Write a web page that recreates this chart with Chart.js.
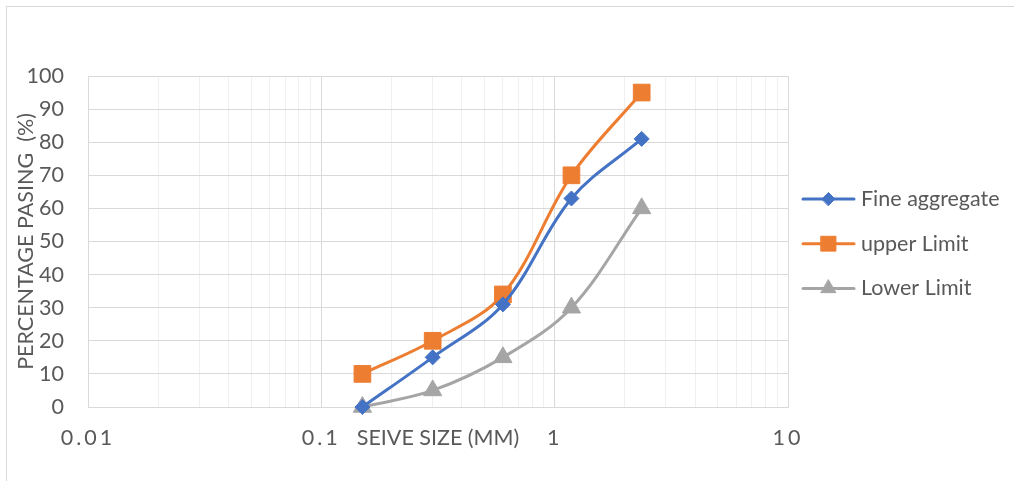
<!DOCTYPE html>
<html>
<head>
<meta charset="utf-8">
<script src="https://cdn.jsdelivr.net/npm/chart.js@4/dist/chart.umd.min.js"></script>
<style>
  html, body { margin: 0; padding: 0; background: #ffffff; }
  #wrap { width: 1014px; height: 481px; position: relative; }
</style>
</head>
<body>
<div id="wrap"><canvas id="grading" width="1014" height="481"></canvas></div>
<script>
// Sieve analysis: percentage passing against sieve size (mm), log scale
const SIEVE_SIZES    = [0.15, 0.3, 0.6, 1.18, 2.36];
const FINE_AGGREGATE = [0, 15, 31, 63, 81];
const UPPER_LIMIT    = [10, 20, 34, 70, 95];
const LOWER_LIMIT    = [0, 5, 15, 30, 60];
const SERIES_NAMES   = ['Fine aggregate', 'upper Limit', 'Lower Limit'];
const X_DECADES      = [0.01, 0.1, 1, 10];
const X_TICK_LABELS  = ['0.01', '0.1', '1', '10'];
const X_TITLE        = 'SEIVE SIZE (MM)';
const Y_TITLE        = 'PERCENTAGE PASING  (%)';

const FONT = 'Lato';
const FONT_SIZE = 21.5;
const TEXT = '#595959';
const GRID = '#d9d9d9';
const GRID_MINOR = '#efefef';

const toPoints = (vals) => SIEVE_SIZES.map((s, i) => ({ x: s, y: vals[i] }));

// Outer frame of the chart object
const framePlugin = {
  id: 'frame',
  beforeDraw(chart) {
    const ctx = chart.ctx;
    ctx.save();
    ctx.fillStyle = '#ffffff';
    ctx.fillRect(0, 0, chart.width, chart.height);
    ctx.strokeStyle = GRID;
    ctx.lineWidth = 1;
    ctx.strokeRect(6.5, 6.5, chart.width + 20, chart.height + 20);
    ctx.restore();
  }
};

// x tick labels are drawn after the datasets (ticks.z = 1) with wide tracking
const trackingPlugin = {
  id: 'tracking',
  afterDatasetsDraw(chart) { chart.ctx.letterSpacing = '3px'; },
  afterDraw(chart) { chart.ctx.letterSpacing = '0px'; }
};

function markerPath(ctx, style, x, y, r) {
  ctx.beginPath();
  if (style === 'rectRot') {
    ctx.moveTo(x - r, y); ctx.lineTo(x, y - r); ctx.lineTo(x + r, y); ctx.lineTo(x, y + r);
  } else if (style === 'rect') {
    const h = r * Math.SQRT1_2;
    ctx.rect(x - h, y - h, 2 * h, 2 * h);
  } else {
    const w = r * Math.sqrt(3) / 2;
    ctx.moveTo(x, y - r); ctx.lineTo(x + w, y + r / 2); ctx.lineTo(x - w, y + r / 2);
  }
  ctx.closePath();
}

// Legend to the right: line sample with marker, then series name
const sideLegend = {
  id: 'sideLegend',
  afterDraw(chart) {
    const ctx = chart.ctx;
    const sizes = { rectRot: 6.5, rect: 10.5, triangle: 8.5 };
    chart.data.datasets.forEach((ds, i) => {
      const y = 199 + i * 44.7;
      ctx.save();
      ctx.letterSpacing = '0px';
      ctx.strokeStyle = ds.borderColor;
      ctx.lineWidth = 3;
      ctx.lineCap = 'round';
      ctx.beginPath();
      ctx.moveTo(803, y);
      ctx.lineTo(854, y);
      ctx.stroke();
      ctx.fillStyle = ds.backgroundColor;
      ctx.lineWidth = 1;
      markerPath(ctx, ds.pointStyle, 828.5, y, sizes[ds.pointStyle]);
      ctx.fill();
      ctx.stroke();
      ctx.fillStyle = TEXT;
      ctx.font = FONT_SIZE + 'px ' + FONT;
      ctx.textAlign = 'left';
      ctx.textBaseline = 'middle';
      ctx.fillText(ds.label, 861, y);
      ctx.restore();
    });
  }
};

function series(label, vals, color, style, radius) {
  return {
    label: label,
    data: toPoints(vals),
    borderColor: color,
    backgroundColor: color,
    borderWidth: 3,
    pointStyle: style,
    pointRadius: radius,
    pointHoverRadius: radius,
    pointBorderWidth: 1,
    pointBorderColor: color,
    pointBackgroundColor: color,
    tension: 0.35,
    clip: false,
    fill: false
  };
}

new Chart(document.getElementById('grading'), {
  type: 'line',
  data: {
    datasets: [
      series(SERIES_NAMES[0], FINE_AGGREGATE, '#4472c4', 'rectRot', 7.5),
      series(SERIES_NAMES[1], UPPER_LIMIT, '#ed7d31', 'rect', 11.8),
      series(SERIES_NAMES[2], LOWER_LIMIT, '#a5a5a5', 'triangle', 10.5)
    ]
  },
  options: {
    responsive: false,
    animation: false,
    devicePixelRatio: 1,
    layout: { padding: { left: 0, top: 76, right: 226, bottom: 0 } },
    plugins: { legend: { display: false }, tooltip: { enabled: false } },
    scales: {
      x: {
        type: 'logarithmic',
        min: X_DECADES[0],
        max: X_DECADES[X_DECADES.length - 1],
        afterBuildTicks(scale) {
          const ticks = [];
          X_DECADES.forEach((d, k) => {
            ticks.push({ value: d, decade: k });
            if (k < X_DECADES.length - 1) {
              for (let m = 2; m <= 9; m++) ticks.push({ value: d * m, decade: -1 });
            }
          });
          scale.ticks = ticks;
        },
        afterFit(scale) { scale.height = 74; },
        ticks: {
          z: 1,
          autoSkip: false,
          maxRotation: 0,
          padding: 18,
          color: TEXT,
          font: { family: FONT, size: FONT_SIZE },
          callback(value, index, ticks) {
            const k = ticks[index].decade;
            return k >= 0 ? X_TICK_LABELS[k] : '';
          }
        },
        grid: {
          drawTicks: false,
          lineWidth: 1,
          color(ctx) { return ctx.tick && ctx.tick.decade >= 0 ? GRID : GRID_MINOR; }
        },
        border: { display: true, color: GRID },
        title: {
          display: true,
          text: X_TITLE,
          color: TEXT,
          font: { family: FONT, size: FONT_SIZE },
          padding: { top: 0, bottom: 30.1 }
        }
      },
      y: {
        min: 0,
        max: 100,
        afterFit(scale) { scale.width = 88; },
        ticks: {
          stepSize: 10,
          padding: 24,
          color: TEXT,
          font: { family: FONT, size: FONT_SIZE }
        },
        grid: { drawTicks: false, color: GRID, lineWidth: 1 },
        border: { display: true, color: GRID },
        title: {
          display: true,
          text: Y_TITLE,
          color: TEXT,
          font: { family: FONT, size: FONT_SIZE },
          padding: { top: 13.1, bottom: 0 }
        }
      }
    }
  },
  plugins: [framePlugin, trackingPlugin, sideLegend]
});
</script>
</body>
</html>
